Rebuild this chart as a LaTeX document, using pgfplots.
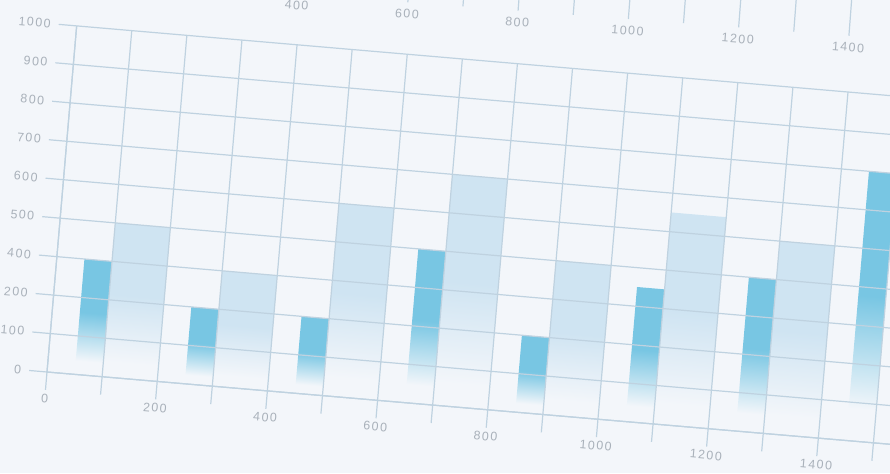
\documentclass[border=0pt]{standalone}
\usepackage{pgfplots}
\pgfplotsset{compat=1.18}
\usepackage{fontspec}
\setmainfont{Liberation Sans}
\newfontfamily\tickfont[LetterSpace=12]{Liberation Sans}

\definecolor{bg}{HTML}{F3F6FA}
\definecolor{dkblue}{HTML}{78C6E3}
\definecolor{ltblue}{HTML}{CFE4F2}
\definecolor{gridc}{HTML}{BFD2E0}
\definecolor{labc}{HTML}{A9B1BA}

% bars fade out towards the base
\pgfdeclareverticalshading{darkfade}{100bp}{color(0bp)=(bg); color(31bp)=(bg); color(52bp)=(dkblue); color(100bp)=(dkblue)}
\pgfdeclareverticalshading{lightfade}{100bp}{color(0bp)=(bg); color(30bp)=(bg); color(52bp)=(ltblue); color(100bp)=(ltblue)}

\pgfplotsset{
  darkbar/.style={ybar, bar width=50, bar shift=0pt, draw=none, shading=darkfade},
  lightbar/.style={ybar, bar width=100, bar shift=0pt, draw=none, shading=lightfade},
}

\begin{document}
\begin{tikzpicture}
\clip (0,0) rectangle (445pt,236.5pt);
\fill[bg] (0,0) rectangle (445pt,236.5pt);
\pgfinterruptboundingbox
\begin{scope}[transform canvas={rotate around={-4.9:(23.5pt,50.5pt)}}]
\begin{axis}[
  anchor=south west, at={(23.5pt,50.5pt)},
  scale only axis,
  x=0.2765pt, y=0.193pt,
  xmin=0, xmax=1650, ymin=0, ymax=900,
  axis lines*=left,
  axis line style={gridc, line width=0.6pt},
  tick align=outside,
  major tick length=9pt,
  tick style={gridc, line width=0.6pt},
  xtick={0,100,...,1600},
  xticklabels={0,,200,,400,,600,,800,,1000,,1200,,1400,,},
  ytick={0,100,...,900},
  yticklabels={0,100,200,400,500,600,700,800,900,1000},
  grid=major,
  grid style={gridc, line width=0.6pt},
  tick label style={font=\tickfont\fontsize{6.2}{7}\selectfont, text=labc},
  yticklabel style={xshift=-0.5pt},
  xticklabel style={yshift=1.5pt},
  axis on top,
]
% dark narrow bars
\addplot[darkbar] coordinates {(75,300)};
\addplot[darkbar] coordinates {(275,200)};
\addplot[darkbar] coordinates {(475,200)};
\addplot[darkbar] coordinates {(675,400)};
\addplot[darkbar] coordinates {(875,200)};
\addplot[darkbar] coordinates {(1075,350)};
\addplot[darkbar] coordinates {(1275,400)};
\addplot[darkbar] coordinates {(1475,700)};
% light wide bars
\addplot[lightbar] coordinates {(150,400)};
\addplot[lightbar] coordinates {(350,300)};
\addplot[lightbar] coordinates {(550,500)};
\addplot[lightbar] coordinates {(750,600)};
\addplot[lightbar] coordinates {(950,400)};
\addplot[lightbar] coordinates {(1150,550)};
\addplot[lightbar] coordinates {(1350,500)};
\end{axis}
\end{scope}

% x axis of the chart printed above, only its labels and ticks show
\begin{scope}[transform canvas={rotate around={-4.34:(23.5pt,50.5pt)}}]
\begin{axis}[
  anchor=south west, at={(23.5pt,268.5pt)},
  scale only axis,
  x=0.2765pt, y=1pt,
  xmin=0, xmax=1650, ymin=0, ymax=10,
  axis x line*=bottom, axis y line=none,
  x axis line style={draw=none},
  tick align=outside,
  major tick length=20pt,
  tick style={gridc, line width=0.6pt},
  xtick={300,400,...,1500},
  xticklabels={,400,,600,,800,,1000,,1200,,1400,},
  tick label style={font=\tickfont\fontsize{6.2}{7}\selectfont, text=labc},
]
\end{axis}
\end{scope}
\endpgfinterruptboundingbox
\end{tikzpicture}
\end{document}
